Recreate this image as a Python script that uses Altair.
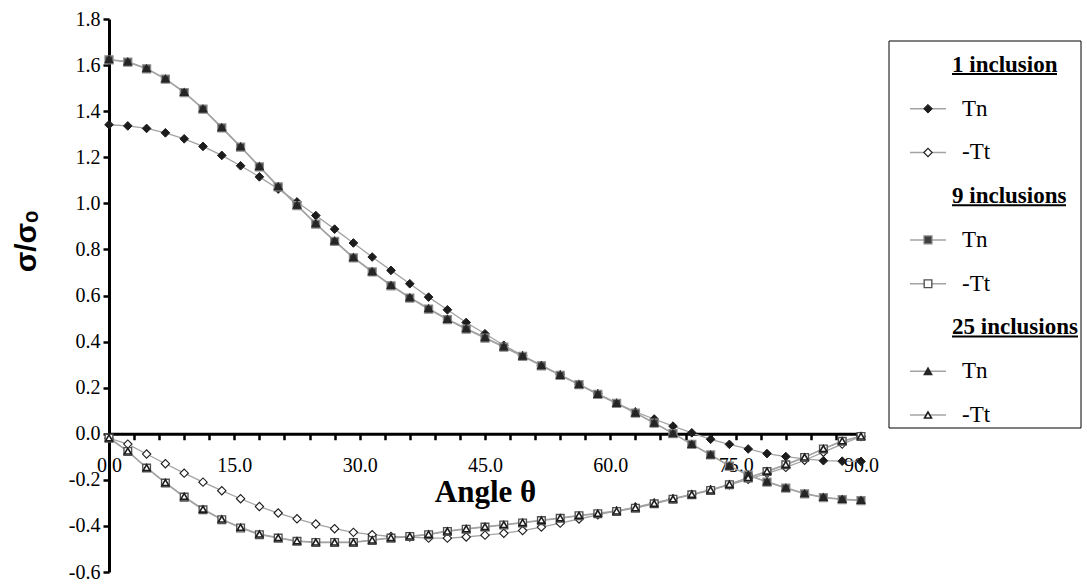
import altair as alt
import pandas as pd

THETA = [0.0, 2.25, 4.5, 6.75, 9.0, 11.25, 13.5, 15.75, 18.0, 20.25, 22.5, 24.75, 27.0, 29.25,
         31.5, 33.75, 36.0, 38.25, 40.5, 42.75, 45.0, 47.25, 49.5, 51.75, 54.0, 56.25, 58.5,
         60.75, 63.0, 65.25, 67.5, 69.75, 72.0, 74.25, 76.5, 78.75, 81.0, 83.25, 85.5, 87.75, 90.0]

ONE_TN = [1.341, 1.336, 1.325, 1.306, 1.280, 1.247, 1.208, 1.163, 1.115, 1.062, 1.006, 0.947, 0.888,
          0.828, 0.767, 0.709, 0.651, 0.593, 0.538, 0.483, 0.434, 0.384, 0.339, 0.297, 0.256, 0.215,
          0.174, 0.133, 0.095, 0.064, 0.033, 0.004, -0.024, -0.046, -0.066, -0.086, -0.099, -0.109,
          -0.117, -0.119, -0.120]
ONE_TT = [-0.019, -0.045, -0.088, -0.130, -0.171, -0.210, -0.247, -0.282, -0.316, -0.344, -0.369,
          -0.392, -0.412, -0.428, -0.438, -0.446, -0.448, -0.453, -0.453, -0.448, -0.440, -0.432,
          -0.420, -0.405, -0.388, -0.370, -0.352, -0.335, -0.318, -0.300, -0.282, -0.263, -0.243,
          -0.222, -0.198, -0.172, -0.146, -0.115, -0.080, -0.045, -0.012]
NINE_TN = [1.623, 1.613, 1.584, 1.539, 1.481, 1.409, 1.327, 1.244, 1.158, 1.071, 0.990, 0.910, 0.835,
           0.763, 0.702, 0.642, 0.589, 0.541, 0.495, 0.454, 0.415, 0.376, 0.336, 0.295, 0.253, 0.213,
           0.171, 0.132, 0.090, 0.046, 0.001, -0.046, -0.092, -0.141, -0.180, -0.210, -0.236, -0.261,
           -0.277, -0.286, -0.290]
NINE_TT = [-0.019, -0.077, -0.149, -0.214, -0.275, -0.330, -0.373, -0.409, -0.438, -0.453, -0.467,
           -0.472, -0.472, -0.472, -0.463, -0.453, -0.446, -0.438, -0.424, -0.414, -0.405, -0.396,
           -0.387, -0.377, -0.367, -0.356, -0.347, -0.337, -0.323, -0.304, -0.284, -0.265, -0.246,
           -0.221, -0.192, -0.164, -0.135, -0.103, -0.066, -0.033, -0.012]
TWENTYFIVE_TN = [1.625, 1.615, 1.586, 1.541, 1.483, 1.411, 1.330, 1.247, 1.161, 1.074, 0.993, 0.913,
                 0.838, 0.766, 0.705, 0.645, 0.592, 0.544, 0.498, 0.457, 0.418, 0.378, 0.338, 0.297,
                 0.255, 0.214, 0.172, 0.133, 0.091, 0.047, 0.002, -0.045, -0.091, -0.139, -0.178,
                 -0.208, -0.234, -0.259, -0.275, -0.284, -0.288]
TWENTYFIVE_TT = [-0.018, -0.075, -0.147, -0.212, -0.272, -0.327, -0.370, -0.406, -0.435, -0.451,
                 -0.465, -0.470, -0.470, -0.470, -0.461, -0.451, -0.444, -0.436, -0.422, -0.412,
                 -0.403, -0.394, -0.385, -0.375, -0.365, -0.354, -0.345, -0.335, -0.321, -0.302,
                 -0.282, -0.263, -0.244, -0.219, -0.190, -0.162, -0.133, -0.101, -0.064, -0.031,
                 -0.010]

SERIES = ["1 Tn", "1 -Tt", "9 Tn", "9 -Tt", "25 Tn", "25 -Tt"]
SERIES_VALUES = [ONE_TN, ONE_TT, NINE_TN, NINE_TT, TWENTYFIVE_TN, TWENTYFIVE_TT]

X_TICKS = [0, 3, 6, 9, 12, 15, 18, 21, 24, 27, 30, 33, 36, 39, 42, 45, 48, 51, 54, 57, 60, 63, 66,
           69, 72, 75, 78, 81, 84, 87, 90]
X_LABELS = [0, 15, 30, 45, 60, 75, 90]
Y_TICKS = [-0.6, -0.5, -0.4, -0.3, -0.2, -0.1, 0.0, 0.1, 0.2, 0.3, 0.4, 0.5, 0.6, 0.7, 0.8, 0.9,
           1.0, 1.1, 1.2, 1.3, 1.4, 1.5, 1.6, 1.7, 1.8]

LEG_ROW = [0, 1, 2, 3, 4, 5, 6, 7, 8]
LEG_LABEL = ["1 inclusion", "Tn", "-Tt", "9 inclusions", "Tn", "-Tt", "25 inclusions", "Tn", "-Tt"]
LEG_SERIES = ["", "1 Tn", "1 -Tt", "", "9 Tn", "9 -Tt", "", "25 Tn", "25 -Tt"]

rows = []
for s, vals in zip(SERIES, SERIES_VALUES):
    for t, v in zip(THETA, vals):
        rows.append({"theta": t, "value": v, "series": s, "order": SERIES.index(s)})
df = pd.DataFrame(rows)

leg = pd.DataFrame({"row": LEG_ROW, "label": LEG_LABEL, "series": LEG_SERIES})
leg["head"] = leg["series"] == ""

SERIF = "Times New Roman, Liberation Serif, Tinos, DejaVu Serif, serif"
SANS = "Arial, Liberation Sans, DejaVu Sans, sans-serif"

shape_scale = alt.Scale(domain=SERIES, range=["diamond", "diamond", "square", "square",
                                                "triangle-up", "triangle-up"])
fill_scale = alt.Scale(domain=SERIES, range=["#1c1c1c", "#ffffff", "#3f3f3f", "#ffffff",
                                               "#262626", "#ffffff"])
stroke_scale = alt.Scale(domain=SERIES, range=["#1c1c1c", "#1c1c1c", "#8c8c8c", "#505050",
                                                 "#262626", "#1c1c1c"])
size_scale = alt.Scale(domain=SERIES, range=[75, 48, 95, 64, 45, 24])
sw_scale = alt.Scale(domain=SERIES, range=[1, 1.6, 1, 1.6, 1, 1.4])

sym_enc = dict(
    shape=alt.Shape("series:N", scale=shape_scale, legend=None),
    fill=alt.Fill("series:N", scale=fill_scale, legend=None),
    stroke=alt.Stroke("series:N", scale=stroke_scale, legend=None),
    size=alt.Size("series:N", scale=size_scale, legend=None),
    strokeWidth=alt.StrokeWidth("series:N", scale=sw_scale, legend=None),
)

x_scale = alt.Scale(domain=[0, 90], nice=False, zero=False)
y_scale = alt.Scale(domain=[-0.6, 1.8], nice=False, zero=False)

# axis carrying the domain line and all tick marks
x_tick_axis = alt.Axis(orient="bottom", values=X_TICKS, labels=False, title=None, offset=-138.25,
                       domainColor="black", domainWidth=3, tickColor="black", tickWidth=2.5,
                       tickSize=6, grid=False)
# axis carrying the labels and the title
x_label_axis = alt.Axis(orient="bottom", values=X_LABELS, ticks=False, domain=False,
                        title="Angle θ", offset=-138.25, format=".1f",
                        labelFont=SERIF, labelFontSize=20, labelColor="black",
                        labelBaseline="alphabetic", labelPadding=38, labelFlush=False,
                        labelOverlap=False, grid=False,
                        titleFont=SERIF, titleFontSize=31, titleFontWeight="bold",
                        titleColor="black", titleX=376, titleY=68, titleBaseline="alphabetic",
                        titleAlign="center")
y_axis = alt.Axis(orient="left", values=Y_TICKS, title="σ/σₒ",
                  labelExpr="abs(round(datum.value * 10)) % 2 === 0 ? replace(format(datum.value, '.1f'), '\u2212', '-') : ''",
                  labelFont=SERIF, labelFontSize=20, labelColor="black",
                  labelPadding=3, labelOverlap=False, labelFlush=False,
                  domainColor="black", domainWidth=3, tickColor="black", tickWidth=2.5,
                  tickSize=6, grid=False,
                  titleFont=SANS, titleFontSize=30, titleFontWeight="bold",
                  titleColor="black", titleAngle=270, titleX=-74, titleY=222,
                  titleBaseline="alphabetic", titleAlign="center")

NOVIEW = alt.ViewBackground(stroke="transparent", strokeWidth=0)

base = alt.Chart(df)
lines = base.mark_line(color="#a3a3a3", strokeWidth=1.3).encode(
    x=alt.X("theta:Q", scale=x_scale, axis=x_tick_axis),
    y=alt.Y("value:Q", scale=y_scale, axis=y_axis),
    detail="series:N", order="theta:Q")
points = base.mark_point(opacity=1).encode(
    x=alt.X("theta:Q", scale=x_scale, axis=x_label_axis),
    y=alt.Y("value:Q", scale=y_scale),
    order="order:Q", **sym_enc)
main = alt.layer(lines, points, view=NOVIEW).resolve_axis(x="independent")

ly = alt.Y("row:Q", scale=alt.Scale(domain=[-1.051, 11.589], reverse=True), axis=None)
lbase = alt.Chart(leg)
box = lbase.transform_filter("datum.row === 0").mark_rect(
    fill="white", stroke="black", strokeWidth=1).encode(
    x=alt.value(780), x2=alt.value(972), y=alt.value(22), y2=alt.value(409))
entries = lbase.transform_filter("!datum.head")
leg_lines = entries.mark_rule(color="#a3a3a3", strokeWidth=1.3).encode(
    x=alt.value(801), x2=alt.value(837), y=ly)
leg_pts = entries.mark_point(opacity=1).encode(x=alt.value(819), y=ly, **sym_enc)
leg_txt = entries.mark_text(align="left", baseline="middle", font=SERIF, fontSize=23,
                            color="black").encode(x=alt.value(853), y=ly, text="label:N")
heads = lbase.transform_filter("datum.head")
leg_head = heads.mark_text(align="left", baseline="middle", font=SERIF, fontSize=23,
                           fontWeight="bold", color="black").encode(
    x=alt.value(843), y=ly, text="label:N")
ul = []
for r, w in [(0, 105), (3, 114), (6, 126)]:
    ul.append(lbase.transform_filter(f"datum.row === {r}").mark_rule(
        color="black", strokeWidth=2, yOffset=9).encode(
        x=alt.value(843), x2=alt.value(843 + w), y=ly))
legend = alt.layer(box, leg_lines, leg_pts, leg_txt, leg_head, *ul, view=NOVIEW)

chart = alt.layer(main, legend, view=NOVIEW).resolve_scale(y="independent").properties(
    width=752, height=553, autosize="none",
    padding={"left": 109, "top": 19, "right": 226, "bottom": 14},
).configure_view(stroke="transparent", strokeWidth=0).configure(background="white")

chart.save("out.html", embed_options={"renderer": "svg", "actions": False})
